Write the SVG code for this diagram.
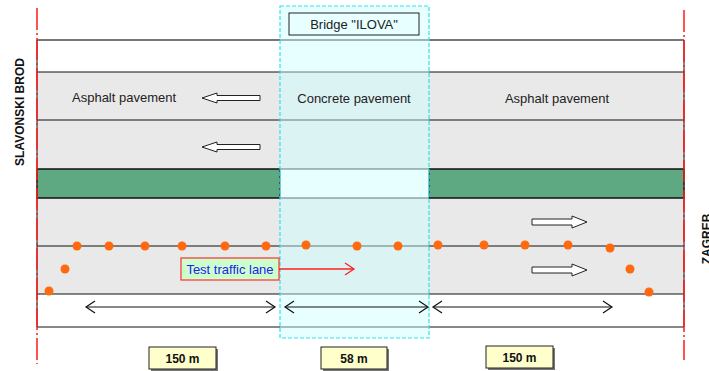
<svg xmlns="http://www.w3.org/2000/svg" width="709" height="371" viewBox="0 0 709 371">
<defs>
<style>
.t{font-family:"Liberation Sans",Arial,sans-serif;font-size:13px;fill:#222}
.b{font-family:"Liberation Sans",Arial,sans-serif;font-size:12px;font-weight:bold;fill:#111}
.ln{stroke:#111;stroke-width:1;fill:none}
.gray{fill:#e9e9e9}
.green{fill:#5ea981;stroke:#111;stroke-width:1}
.harrow{fill:#fff;stroke:#222;stroke-width:1}
.dim{stroke:#111;stroke-width:1.2;fill:none}
.dot{fill:#ff6a10}
.red{stroke:#ff1a1a;stroke-width:1.5;stroke-dasharray:22 3 2 3;fill:none}
.lbl{fill:#ffffcc;stroke:#222;stroke-width:1}
.sh{fill:#777}
</style>
</defs>
<g id="road">
<rect x="37" y="40" width="647" height="287" fill="#fff"/>
<rect class="gray" x="37" y="72" width="647" height="97"/>
<rect class="gray" x="37" y="198" width="647" height="96"/>
<rect class="green" x="37" y="169" width="243" height="29"/>
<rect class="green" x="429" y="169" width="255" height="29"/>
<line x1="37" y1="40" x2="684" y2="40" stroke="#777" stroke-width="2"/>
<line class="ln" x1="37" y1="72" x2="684" y2="72"/>
<line class="ln" x1="37" y1="120" x2="684" y2="120"/>
<line class="ln" x1="37" y1="169" x2="684" y2="169"/>
<line class="ln" x1="37" y1="198" x2="684" y2="198"/>
<line class="ln" x1="37" y1="246" x2="684" y2="246"/>
<line class="ln" x1="37" y1="294" x2="684" y2="294"/>
<line class="ln" x1="37" y1="327" x2="684" y2="327"/>
<line class="ln" x1="37" y1="40" x2="37" y2="327"/>
<line class="ln" x1="684" y1="40" x2="684" y2="327"/>
</g>
<g id="bridge">
<rect x="280" y="6" width="149" height="332" fill="#ccffff" fill-opacity="0.45" stroke="#33e0ee" stroke-width="1.2" stroke-dasharray="4 2"/>
<rect x="289" y="13" width="130" height="22" fill="#e8ffff" stroke="#222" stroke-width="1"/>
<text class="t" x="354" y="29" text-anchor="middle">Bridge "ILOVA"</text>
</g>
<g id="labels">
<text class="t" x="72" y="102">Asphalt pavement</text>
<text class="t" x="354" y="103" text-anchor="middle">Concrete pavement</text>
<text class="t" x="557" y="103" text-anchor="middle">Asphalt pavement</text>
<text class="b" transform="translate(24,112) rotate(-90)" text-anchor="middle">SLAVONSKI BROD</text>
<text class="b" transform="translate(711,239) rotate(-90)" text-anchor="middle">ZAGREB</text>
</g>
<g id="direction-arrows">
<path class="harrow" d="M202,98 L217,93 L217,95.5 L260,95.5 L260,100.5 L217,100.5 L217,103 Z"/>
<path class="harrow" d="M202,147 L217,142 L217,144.5 L260,144.5 L260,149.5 L217,149.5 L217,152 Z"/>
<path class="harrow" d="M587,222 L572,216 L572,219 L532,219 L532,225 L572,225 L572,228 Z"/>
<path class="harrow" d="M587,270 L572,264 L572,267 L532,267 L532,273 L572,273 L572,276 Z"/>
</g>
<g id="dots">
<circle class="dot" cx="49" cy="291" r="4.5"/>
<circle class="dot" cx="65" cy="269" r="4.5"/>
<circle class="dot" cx="77" cy="246" r="4.5"/>
<circle class="dot" cx="109" cy="246" r="4.5"/>
<circle class="dot" cx="145" cy="246" r="4.5"/>
<circle class="dot" cx="182" cy="246" r="4.5"/>
<circle class="dot" cx="225" cy="246" r="4.5"/>
<circle class="dot" cx="266" cy="246" r="4.5"/>
<circle class="dot" cx="306" cy="245" r="4.5"/>
<circle class="dot" cx="357" cy="246" r="4.5"/>
<circle class="dot" cx="398" cy="246" r="4.5"/>
<circle class="dot" cx="438" cy="245" r="4.5"/>
<circle class="dot" cx="484" cy="245" r="4.5"/>
<circle class="dot" cx="525" cy="245" r="4.5"/>
<circle class="dot" cx="568" cy="245" r="4.5"/>
<circle class="dot" cx="610" cy="248" r="4.5"/>
<circle class="dot" cx="630" cy="269" r="4.5"/>
<circle class="dot" cx="649" cy="292" r="4.5"/>
</g>
<g id="test-lane">
<rect x="181" y="258" width="98" height="22" fill="#ccffcc" stroke="#ff3030" stroke-width="1.2"/>
<text x="230" y="273.5" text-anchor="middle" style="font-family:'Liberation Sans',Arial,sans-serif;font-size:13px;fill:#2222ee">Test traffic lane</text>
</g>
<g id="connectors">
<line x1="279" y1="269" x2="354" y2="269" stroke="#ff2020" stroke-width="1.3"/>
<path d="M345,263 L354,269 L345,275" stroke="#ff2020" stroke-width="1.3" fill="none"/>
<line class="dim" x1="86" y1="307" x2="275" y2="307"/>
<path class="dim" d="M95,301 L86,307 L95,313 M266,301 L275,307 L266,313"/>
<line class="dim" x1="285" y1="307" x2="428" y2="307"/>
<path class="dim" d="M294,301 L285,307 L294,313 M419,301 L428,307 L419,313"/>
<line class="dim" x1="433" y1="307" x2="612" y2="307"/>
<path class="dim" d="M442,301 L433,307 L442,313 M603,301 L612,307 L603,313"/>
<line class="red" x1="37" y1="8" x2="37" y2="364"/>
<line class="red" x1="684" y1="10" x2="684" y2="360"/>
</g>
<g id="len1">
<rect class="sh" x="151" y="349" width="67" height="22"/>
<rect class="lbl" x="149" y="347" width="67" height="22"/>
<text class="b" x="182.5" y="362.5" text-anchor="middle">150 m</text>
</g>
<g id="len2">
<rect class="sh" x="323" y="349" width="66" height="22"/>
<rect class="lbl" x="321" y="347" width="66" height="22"/>
<text class="b" x="354" y="362.5" text-anchor="middle">58 m</text>
</g>
<g id="len3">
<rect class="sh" x="488" y="348" width="67" height="22"/>
<rect class="lbl" x="486" y="346" width="67" height="22"/>
<text class="b" x="519.5" y="361.5" text-anchor="middle">150 m</text>
</g>
</svg>
